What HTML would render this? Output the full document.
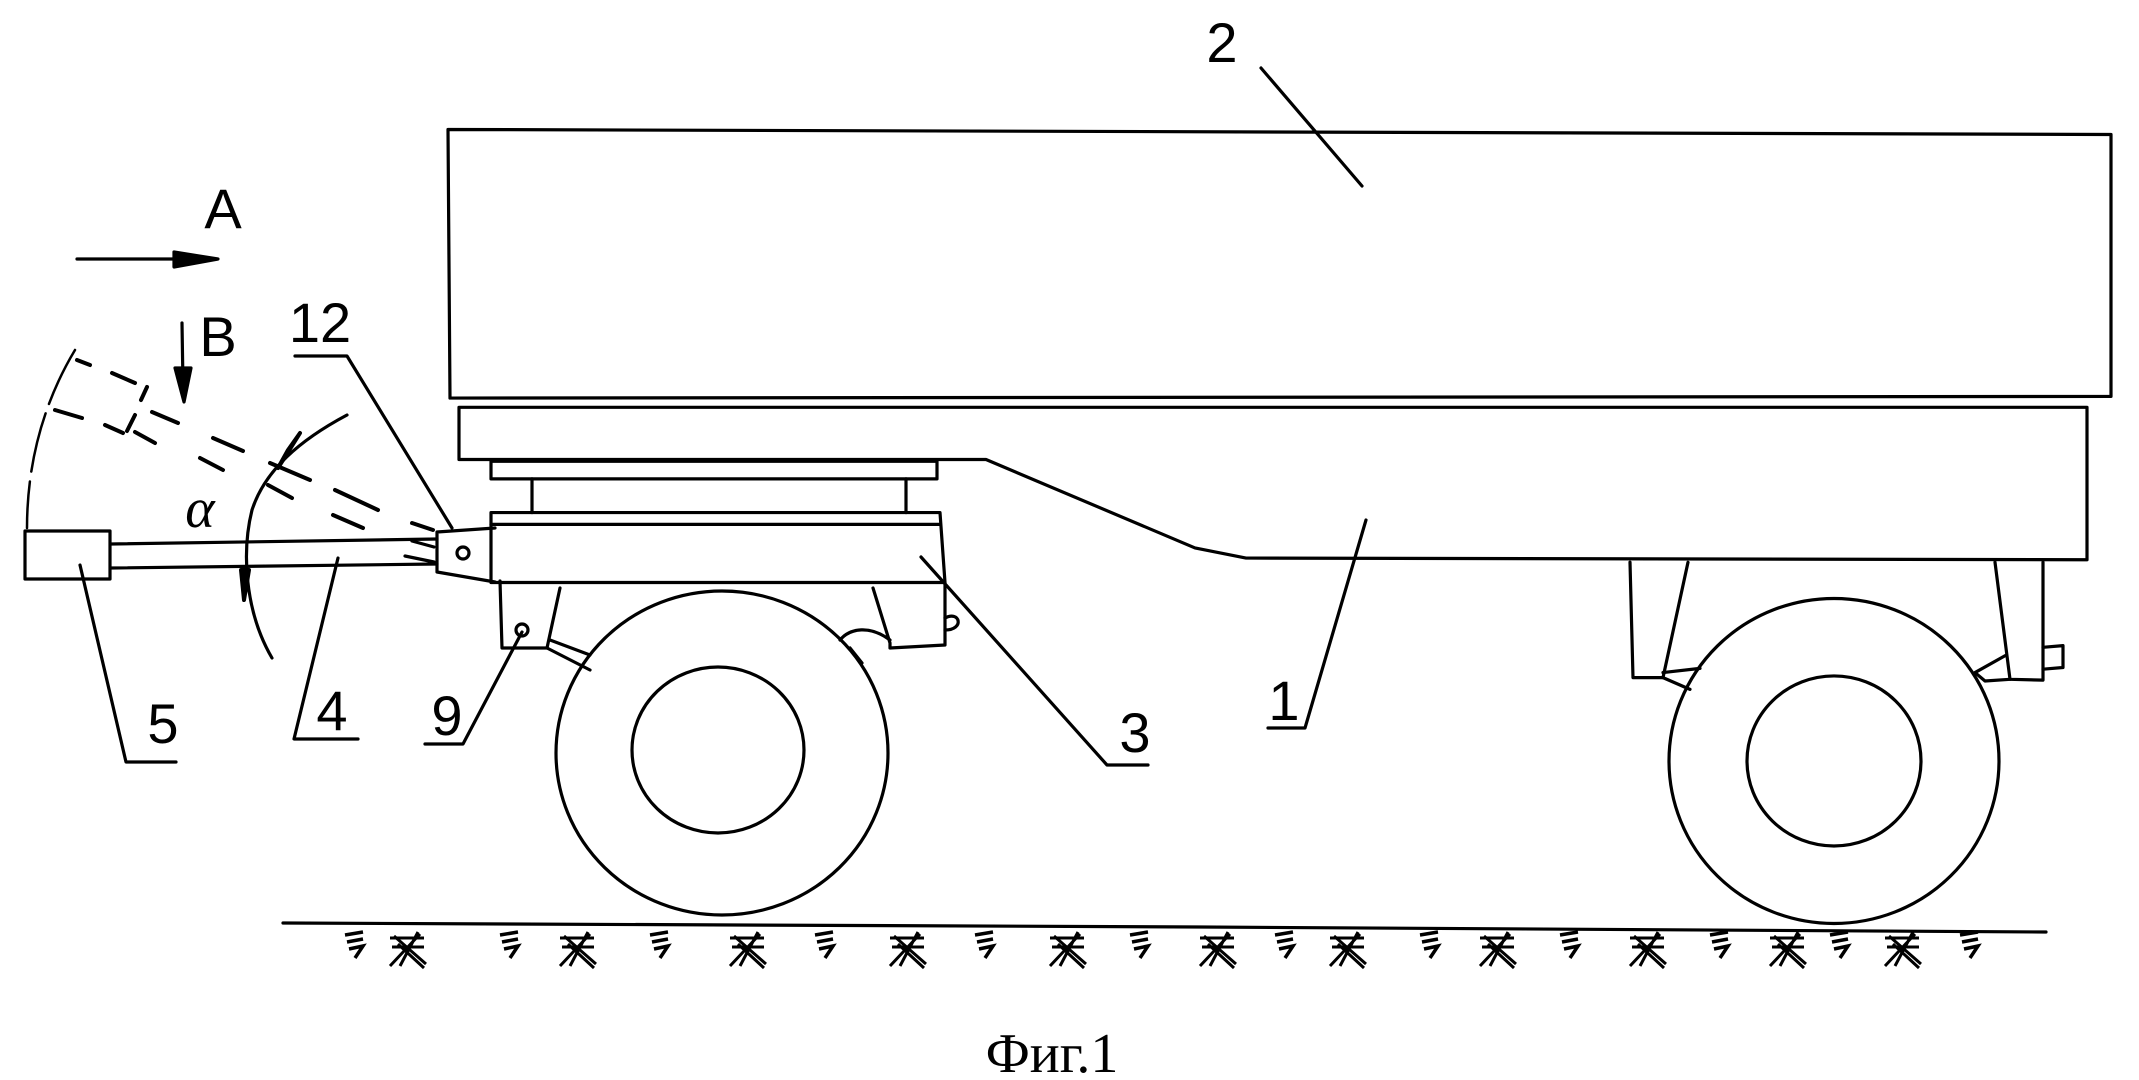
<!DOCTYPE html>
<html><head><meta charset="utf-8"><style>
html,body{margin:0;padding:0;background:#fff;width:2139px;height:1080px;overflow:hidden}
svg{display:block}
text{font-family:"Liberation Sans",sans-serif;fill:#000}
</style></head><body>
<svg width="2139" height="1080" viewBox="0 0 2139 1080" xmlns="http://www.w3.org/2000/svg">
<defs>
<g id="z"><path d="M0,0 l18,-3 M2,7 l16,-3 M4,14 l14,-3 l-8,12" stroke="#000" stroke-width="3.5" fill="none"/></g>
<g id="x"><path d="M0,36 l30,-32 M10,36 l18,-34 M4,6 l32,28 M8,14 l26,24 M0,8 l34,0 M2,17 l32,0" stroke="#000" stroke-width="3" fill="none"/></g>
</defs>
<g stroke="#000" stroke-width="3.2" fill="none" stroke-linecap="round" stroke-linejoin="round">
<g transform="matrix(1,0,0,0.842,0,15.8)">
<path vector-effect="non-scaling-stroke" d="M448,135 L2111,141 L2111,452 L450,454 Z"/>
<path vector-effect="non-scaling-stroke" d="M459,465 L2087,465 L2087,646 L1246,644 L1195,632 L986,527 L459,527 Z"/>
<rect vector-effect="non-scaling-stroke" x="491" y="529" width="446" height="21"/>
<line vector-effect="non-scaling-stroke" x1="532" y1="550" x2="532" y2="590"/><line vector-effect="non-scaling-stroke" x1="906" y1="550" x2="906" y2="590"/>
<path vector-effect="non-scaling-stroke" d="M491,590 L940,590 L945,673 L491,673 Z"/>
<line vector-effect="non-scaling-stroke" x1="491" y1="604" x2="940" y2="604"/>
<path vector-effect="non-scaling-stroke" d="M1630,649 L1633,786 L1663,786 L1688,649"/>
<path vector-effect="non-scaling-stroke" d="M1663,780 L1700,775 M1663,786 L1690,800"/>
<path vector-effect="non-scaling-stroke" d="M1995,649 L2010,788 L2043,789 L2043,649"/>
<path vector-effect="non-scaling-stroke" d="M2043,750 L2063,748 L2063,774 L2043,776"/>
<path vector-effect="non-scaling-stroke" d="M2010,788 L1985,790 L1975,780 L2005,760"/>
<ellipse vector-effect="non-scaling-stroke" cx="1834" cy="885" rx="165" ry="193"/>
<ellipse vector-effect="non-scaling-stroke" cx="1834" cy="885" rx="87" ry="101"/>
</g>
<path d="M495,528 L437,532 L437,572 L495,582"/>
<circle cx="463" cy="553" r="6"/>
<path d="M111,544 L437,539 M111,568 L437,564"/>
<path d="M412,541 L434,547 M405,556 L434,562"/>
<rect x="25" y="531" width="85" height="48"/>
<path d="M500,581 L502,648 L547,648 L560,588"/>
<circle cx="522" cy="630" r="6"/>
<path d="M547,648 L590,670 M550,640 L590,655"/>
<path d="M873,588 L890,643 L890,648 L945,645 L945,583"/>
<path d="M890,640 C870,625 850,628 840,640 M850,648 L862,663"/>
<path d="M945,618 C960,610 965,630 945,630"/>
<ellipse cx="722" cy="753" rx="166" ry="162"/>
<ellipse cx="718" cy="750" rx="86" ry="83"/>
<path d="M283,923 L1200,927 L2046,932"/>
<line x1="77" y1="259" x2="205" y2="259"/><path d="M174,252 L218,259 L174,267 Z" fill="#000"/>
<line x1="182" y1="323" x2="183" y2="385"/><path d="M175,368 L184,402 L191,368 Z" fill="#000"/>
<g stroke-width="4">
<path d="M77,360 L90,365 M112,373 L135,383 M152,412 L178,423 M213,438 L243,451 M270,463 L310,480 M335,490 L378,510 M412,523 L433,530"/>
<path d="M55,410 L82,418 M105,425 L123,433 M135,432 L155,443 M200,458 L223,470 M268,485 L292,498 M333,515 L363,528"/>
<path d="M147,387 L141,400 M135,415 L127,431"/>
</g>
<path d="M75,350 C45,400 27,460 27,528" stroke-dasharray="60,10" stroke-width="2.5"/>
<path d="M347,415 C300,440 265,470 252,510 C242,550 244,610 272,658"/>
<path d="M300,433 L278,468 L288,450 Z" fill="#000" stroke-width="4"/>
<path d="M241,570 L244,600 L249,570 Z" fill="#000" stroke-width="4"/>
<path d="M295,356 L347,356 L452,528"/>
<path d="M80,565 L126,762 L176,762"/>
<path d="M338,558 L294,739 L358,739"/>
<path d="M522,632 L463,744 L425,744"/>
<path d="M921,557 L1107,765 L1148,765"/>
<path d="M1366,520 L1305,728 L1268,728"/>
<path d="M1261,68 L1362,186"/>
</g>
<g>
<use href="#z" x="345" y="935"/><use href="#x" x="390" y="930"/><use href="#z" x="500" y="935"/><use href="#x" x="560" y="930"/>
<use href="#z" x="650" y="935"/><use href="#x" x="730" y="930"/><use href="#z" x="815" y="935"/><use href="#x" x="890" y="930"/>
<use href="#z" x="975" y="935"/><use href="#x" x="1050" y="930"/><use href="#z" x="1130" y="935"/><use href="#x" x="1200" y="930"/>
<use href="#z" x="1275" y="935"/><use href="#x" x="1330" y="930"/><use href="#z" x="1420" y="935"/><use href="#x" x="1480" y="930"/>
<use href="#z" x="1560" y="935"/><use href="#x" x="1630" y="930"/><use href="#z" x="1710" y="935"/><use href="#x" x="1770" y="930"/>
<use href="#z" x="1830" y="935"/><use href="#x" x="1885" y="930"/><use href="#z" x="1960" y="935"/>
</g>
<g font-size="56" text-anchor="middle">
<text x="1222" y="62">2</text>
<text x="223" y="228">A</text>
<text x="218" y="356">B</text>
<text x="320" y="342">12</text>
<text x="200" y="527" style='font-family:"Liberation Serif",serif' font-style="italic">α</text>
<text x="163" y="743">5</text>
<text x="332" y="730">4</text>
<text x="447" y="735">9</text>
<text x="1135" y="752">3</text>
<text x="1284" y="720">1</text>
</g>
<text x="1052" y="1072" font-size="56" text-anchor="middle" style='font-family:"Liberation Serif",serif'>Фиг.1</text>
</svg>
</body></html>
